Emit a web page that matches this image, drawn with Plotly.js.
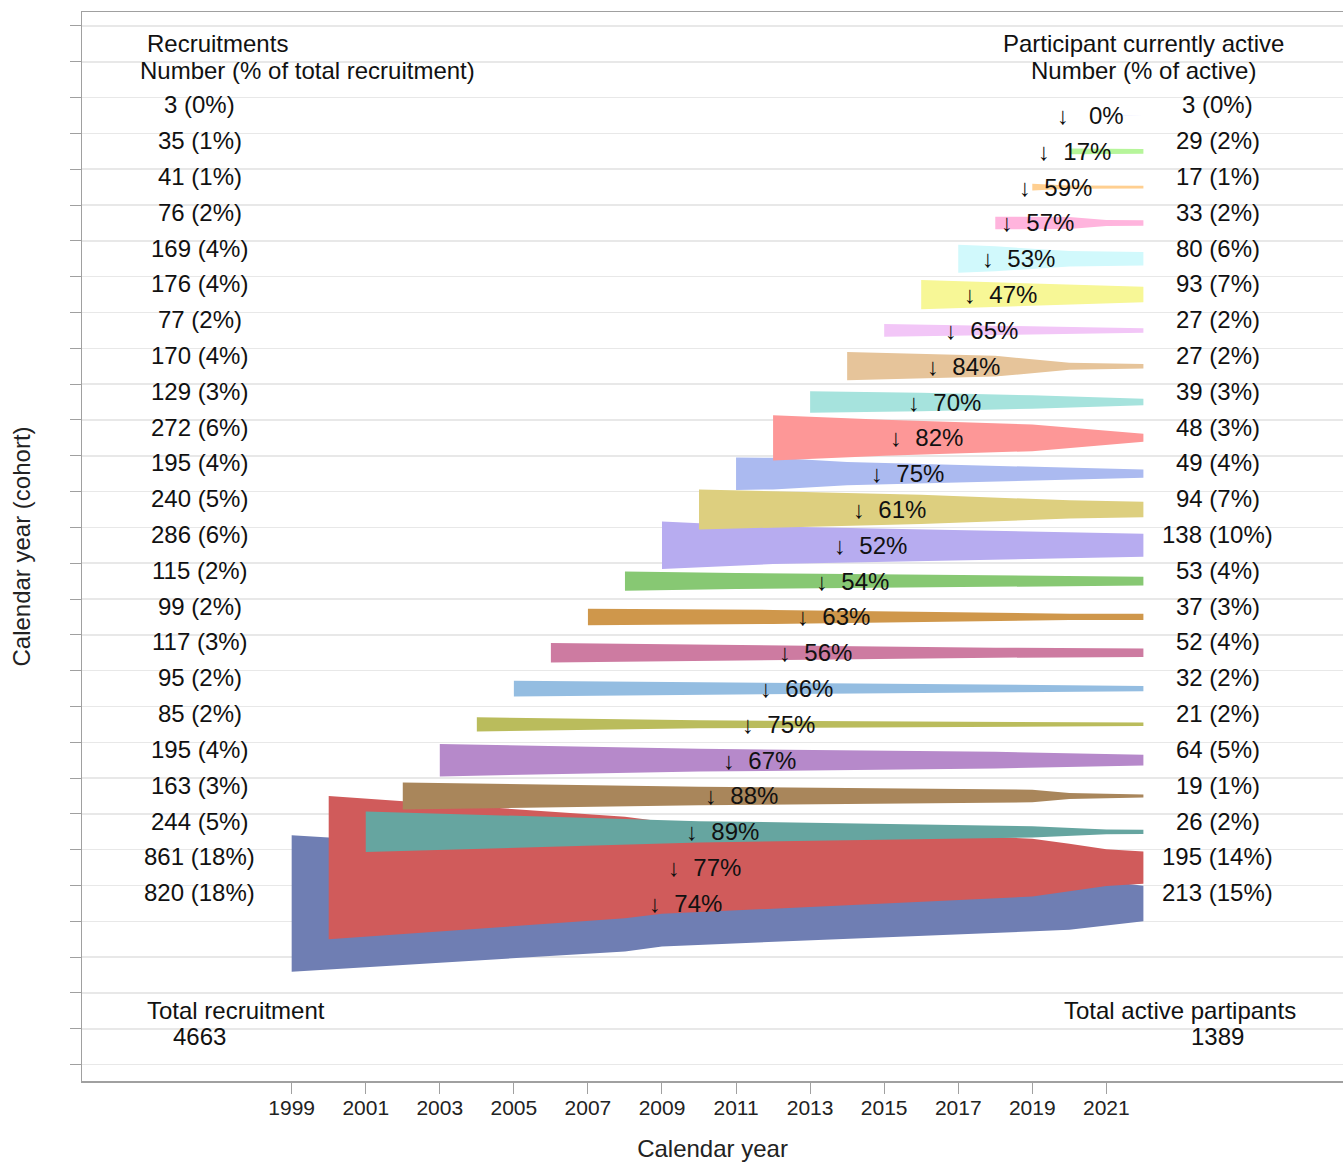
<!DOCTYPE html>
<html>
<head>
<meta charset="utf-8">
<script src="https://cdn.plot.ly/plotly-3.0.1.min.js"></script>
<style>html,body{margin:0;padding:0;background:#fff;}</style>
</head>
<body>
<div id="chart" style="width:1343px;height:1164px;"></div>
<script>
// ---- data ----
const cohorts   = [1999,2000,2001,2002,2003,2004,2005,2006,2007,2008,2009,2010,2011,2012,2013,2014,2015,2016,2017,2018,2019,2020,2021];
const recruited = [820, 861, 244, 163, 195, 85, 95, 117, 99, 115, 286, 240, 195, 272, 129, 170, 77, 176, 169, 76, 41, 35, 3];
const active    = [213, 195, 26, 19, 64, 21, 32, 52, 37, 53, 138, 94, 49, 48, 39, 27, 27, 93, 80, 33, 17, 29, 3];
const lastYear  = 2022;
// intermediate (year, still-active count) points of each cohort, between recruitment and 2022
const midYears = [
  [2008, 2009, 2020],
  [2008, 2009, 2019, 2020, 2021],
  [2010, 2019, 2021],
  [2010, 2019, 2020],
  [2010, 2018],
  [2010],
  [2012],
  [2012, 2018],
  [2012, 2020],
  [2011],
  [2012],
  [2012, 2016, 2020],
  [2012, 2014, 2018],
  [2015, 2019],
  [2016, 2019],
  [2018, 2020],
  [],
  [],
  [2018, 2020],
  [2020, 2021],
  [2020],
  [2021],
  []
];
const midCounts = [
  [577, 517, 317],
  [610, 555, 348, 288, 220],
  [128, 68, 28],
  [112, 76, 36],
  [137, 100],
  [48],
  [72],
  [90, 60],
  [84, 38],
  [96],
  [225],
  [218, 176, 110],
  [190, 140, 92],
  [216, 160],
  [110, 80],
  [125, 42],
  [],
  [],
  [150, 92],
  [72, 36],
  [20],
  [30],
  []
];
const colors = ['#6F7EB3','#D05B5B','#66A5A0','#A9865B','#B689CA','#BABC5C','#94BDE1','#CD7BA1','#CF974B','#87C873',
                '#B7ACF0','#DDCF7F','#ABBAF0','#FD9797','#A6E3DD','#E6C49A','#F2C6F7','#F7F796','#D1F9FC','#FFB4DD',
                '#FFCF90','#B6F59A','#CFCFFA'];
const xTicks = [1999,2001,2003,2005,2007,2009,2011,2013,2015,2017,2019,2021];
const totalRecruited = 4663;
const totalActive = 1389;

// ---- build ----
const unitPerPerson = 4 / 861;   // band width in rows per participant
const traces = [];
cohorts.forEach((c, i) => {
  const yrs = [c].concat(midYears[i], [lastYear]);
  const cnt = [recruited[i]].concat(midCounts[i], [active[i]]);
  const yc = c - 1999;
  const xs = yrs.concat(yrs.slice().reverse());
  const ys = cnt.map(v => yc + v * unitPerPerson / 2)
    .concat(cnt.slice().reverse().map(v => yc - v * unitPerPerson / 2));
  traces.push({
    type: 'scatter', mode: 'lines', x: xs, y: ys, fill: 'toself',
    fillcolor: colors[i], line: {width: 0, color: colors[i]},
    hoverinfo: 'skip', showlegend: false
  });
});

const txtFont = {family: 'Liberation Sans, Arial, sans-serif', size: 24, color: '#111'};
const ann = [];
function addText(x, y, text, anchor) {
  ann.push({x: x, y: y, xref: 'x', yref: 'y', text: text, showarrow: false,
            xanchor: anchor || 'center', yanchor: 'middle', font: txtFont});
}
cohorts.forEach((c, i) => {
  const yc = c - 1999;
  const pr = Math.round(recruited[i] / totalRecruited * 100);
  const pa = Math.round(active[i] / totalActive * 100);
  const dec = Math.round((recruited[i] - active[i]) / recruited[i] * 100);
  addText(1996.52, yc + 0.3, recruited[i] + ' (' + pr + '%)');
  addText(2024.01, yc + 0.3, active[i] + ' (' + pa + '%)');
  const sp = dec < 10 ? '\u00a0\u00a0\u00a0' : '\u00a0\u00a0';
  addText((c + lastYear) / 2 - 1.9, yc, '\u2193' + sp + dec + '%', 'left');
});
addText(1996.99, 24.01, 'Recruitments');
addText(1999.42, 23.26, 'Number (% of total recruitment)');
addText(2022.01, 24.01, 'Participant currently active');
addText(2022.01, 23.26, 'Number (% of active)');
addText(1997.5, -2.98, 'Total recruitment');
addText(1996.5, -3.71, String(totalRecruited));
addText(2022.99, -2.98, 'Total active partipants');
addText(2024.01, -3.71, String(totalActive));

const yGrid = [];
for (let k = -4.5; k <= 24.5; k += 1) yGrid.push(k);

const layout = {
  width: 1343, height: 1164,
  margin: {l: 82, r: 0, t: 12, b: 83},
  paper_bgcolor: '#fff', plot_bgcolor: '#fff',
  font: {family: 'Liberation Sans, Arial, sans-serif', color: '#111'},
  showlegend: false,
  xaxis: {
    range: [1993.338, 2027.39], tickvals: xTicks, ticktext: xTicks.map(String),
    ticks: 'outside', ticklen: 11, tickcolor: '#a0a0a0', tickwidth: 1,
    ticklabelstandoff: -4,
    showline: true, linecolor: '#a0a0a0', linewidth: 1.5, mirror: true,
    showgrid: false, zeroline: false,
    tickfont: {size: 21, color: '#222'},
    title: {text: 'Calendar year', font: {size: 24, color: '#222'}, standoff: 22}
  },
  yaxis: {
    range: [-4.958, 24.89], tickvals: yGrid, showticklabels: false,
    ticks: 'outside', ticklen: 11, tickcolor: '#a0a0a0', tickwidth: 1,
    showline: true, linecolor: '#a0a0a0', linewidth: 1.5,
    showgrid: true, gridcolor: '#e8e8e8', gridwidth: 1.5, zeroline: false,
    title: {text: 'Calendar year (cohort)', font: {size: 24, color: '#222'}, standoff: 32}
  },
  annotations: ann
};
Plotly.newPlot('chart', traces, layout, {staticPlot: true});
</script>
</body>
</html>
